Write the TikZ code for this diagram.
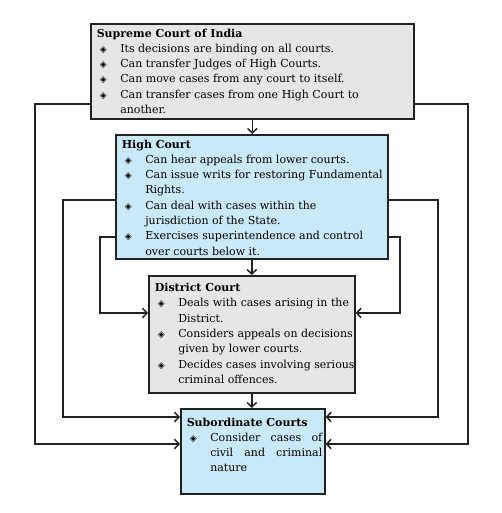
\documentclass[tikz,border=0pt]{standalone}
\usepackage{fontspec}
\setmainfont{DejaVu Serif}
\newfontfamily\symfont{DejaVu Sans}
\usetikzlibrary{arrows.meta}
\definecolor{linec}{HTML}{222222}
\definecolor{grayfill}{HTML}{E6E6E6}
\definecolor{bluefill}{HTML}{C9E9F9}
\newcommand{\bul}{\hspace*{3pt}{\symfont\small ◈}}
\newcommand{\boxtext}[4][2.5pt]{\parbox[c][#3][t]{#2}{\vspace*{#1}\hspace*{6pt}\fontsize{11}{15.3}\selectfont\begin{tabular}[t]{@{}p{23.5pt}@{}l@{}}#4\end{tabular}}}
\newcommand{\ttl}[1]{\multicolumn{2}{@{}l@{}}{\textbf{#1}}}
\tikzset{
  court/.style={draw=linec, line width=1.6pt, anchor=north west, inner sep=0pt},
  conn/.style={draw=linec, line width=1.5pt, -{Straight Barb[length=4.5pt,width=9.5pt,line width=1.5pt]}}
}
\begin{document}
\begin{tikzpicture}[x=1pt,y=-1pt]
\useasboundingbox (0,0) rectangle (502,513);
\node[court, fill=grayfill] (sup) at (90,23) {\boxtext{323pt}{95pt}{%
\ttl{Supreme Court of India}\\
\bul & Its decisions are binding on all courts.\\
\bul & Can transfer Judges of High Courts.\\
\bul & Can move cases from any court to itself.\\
\bul & Can transfer cases from one High Court to\\
 & another.}};
\node[court, fill=bluefill] (high) at (115,134) {\boxtext{272pt}{124pt}{%
\ttl{High Court}\\
\bul & Can hear appeals from lower courts.\\
\bul & Can issue writs for restoring Fundamental\\
 & Rights.\\
\bul & Can deal with cases within the\\
 & jurisdiction of the State.\\
\bul & Exercises superintendence and control\\
 & over courts below it.}};
\node[court, fill=grayfill] (dist) at (148,275) {\boxtext[5pt]{206pt}{117pt}{%
\ttl{District Court}\\
\bul & Deals with cases arising in the\\
 & District.\\
\bul & Considers appeals on decisions\\
 & given by lower courts.\\
\bul & Decides cases involving serious\\
 & criminal offences.}};
\node[court, fill=bluefill] (sub) at (180,408) {\boxtext[6.5pt]{144pt}{85pt}{%
\ttl{Subordinate Courts}\\
\bul & \makebox[112pt][s]{Consider cases of}\\
 & \makebox[112pt][s]{civil and criminal}\\
 & nature}};
% vertical chain
\draw[conn] (sup.south) -- (sup.south |- high.north);
\draw[conn] (high.south) -- (high.south |- dist.north);
\draw[conn] (dist.south) -- (dist.south |- sub.north);
% supreme to subordinate
\coordinate (sl1) at (35,104);  \coordinate (sl2) at (35,444);
\coordinate (sr1) at (468,104); \coordinate (sr2) at (468,444);
\draw[conn] (sup.west |- sl1) -- (sl1) -- (sl2) -- (sub.west |- sl2);
\draw[conn] (sup.east |- sr1) -- (sr1) -- (sr2) -- (sub.east |- sr2);
% high to subordinate
\coordinate (hl1) at (63,200);  \coordinate (hl2) at (63,417);
\coordinate (hr1) at (438,200); \coordinate (hr2) at (438,417);
\draw[conn] (high.west |- hl1) -- (hl1) -- (hl2) -- (sub.west |- hl2);
\draw[conn] (high.east |- hr1) -- (hr1) -- (hr2) -- (sub.east |- hr2);
% high to district
\coordinate (dl1) at (100,237); \coordinate (dl2) at (100,313);
\coordinate (dr1) at (400,237); \coordinate (dr2) at (400,313);
\draw[conn] (high.west |- dl1) -- (dl1) -- (dl2) -- (dist.west |- dl2);
\draw[conn] (high.east |- dr1) -- (dr1) -- (dr2) -- (dist.east |- dr2);
\end{tikzpicture}
\end{document}
